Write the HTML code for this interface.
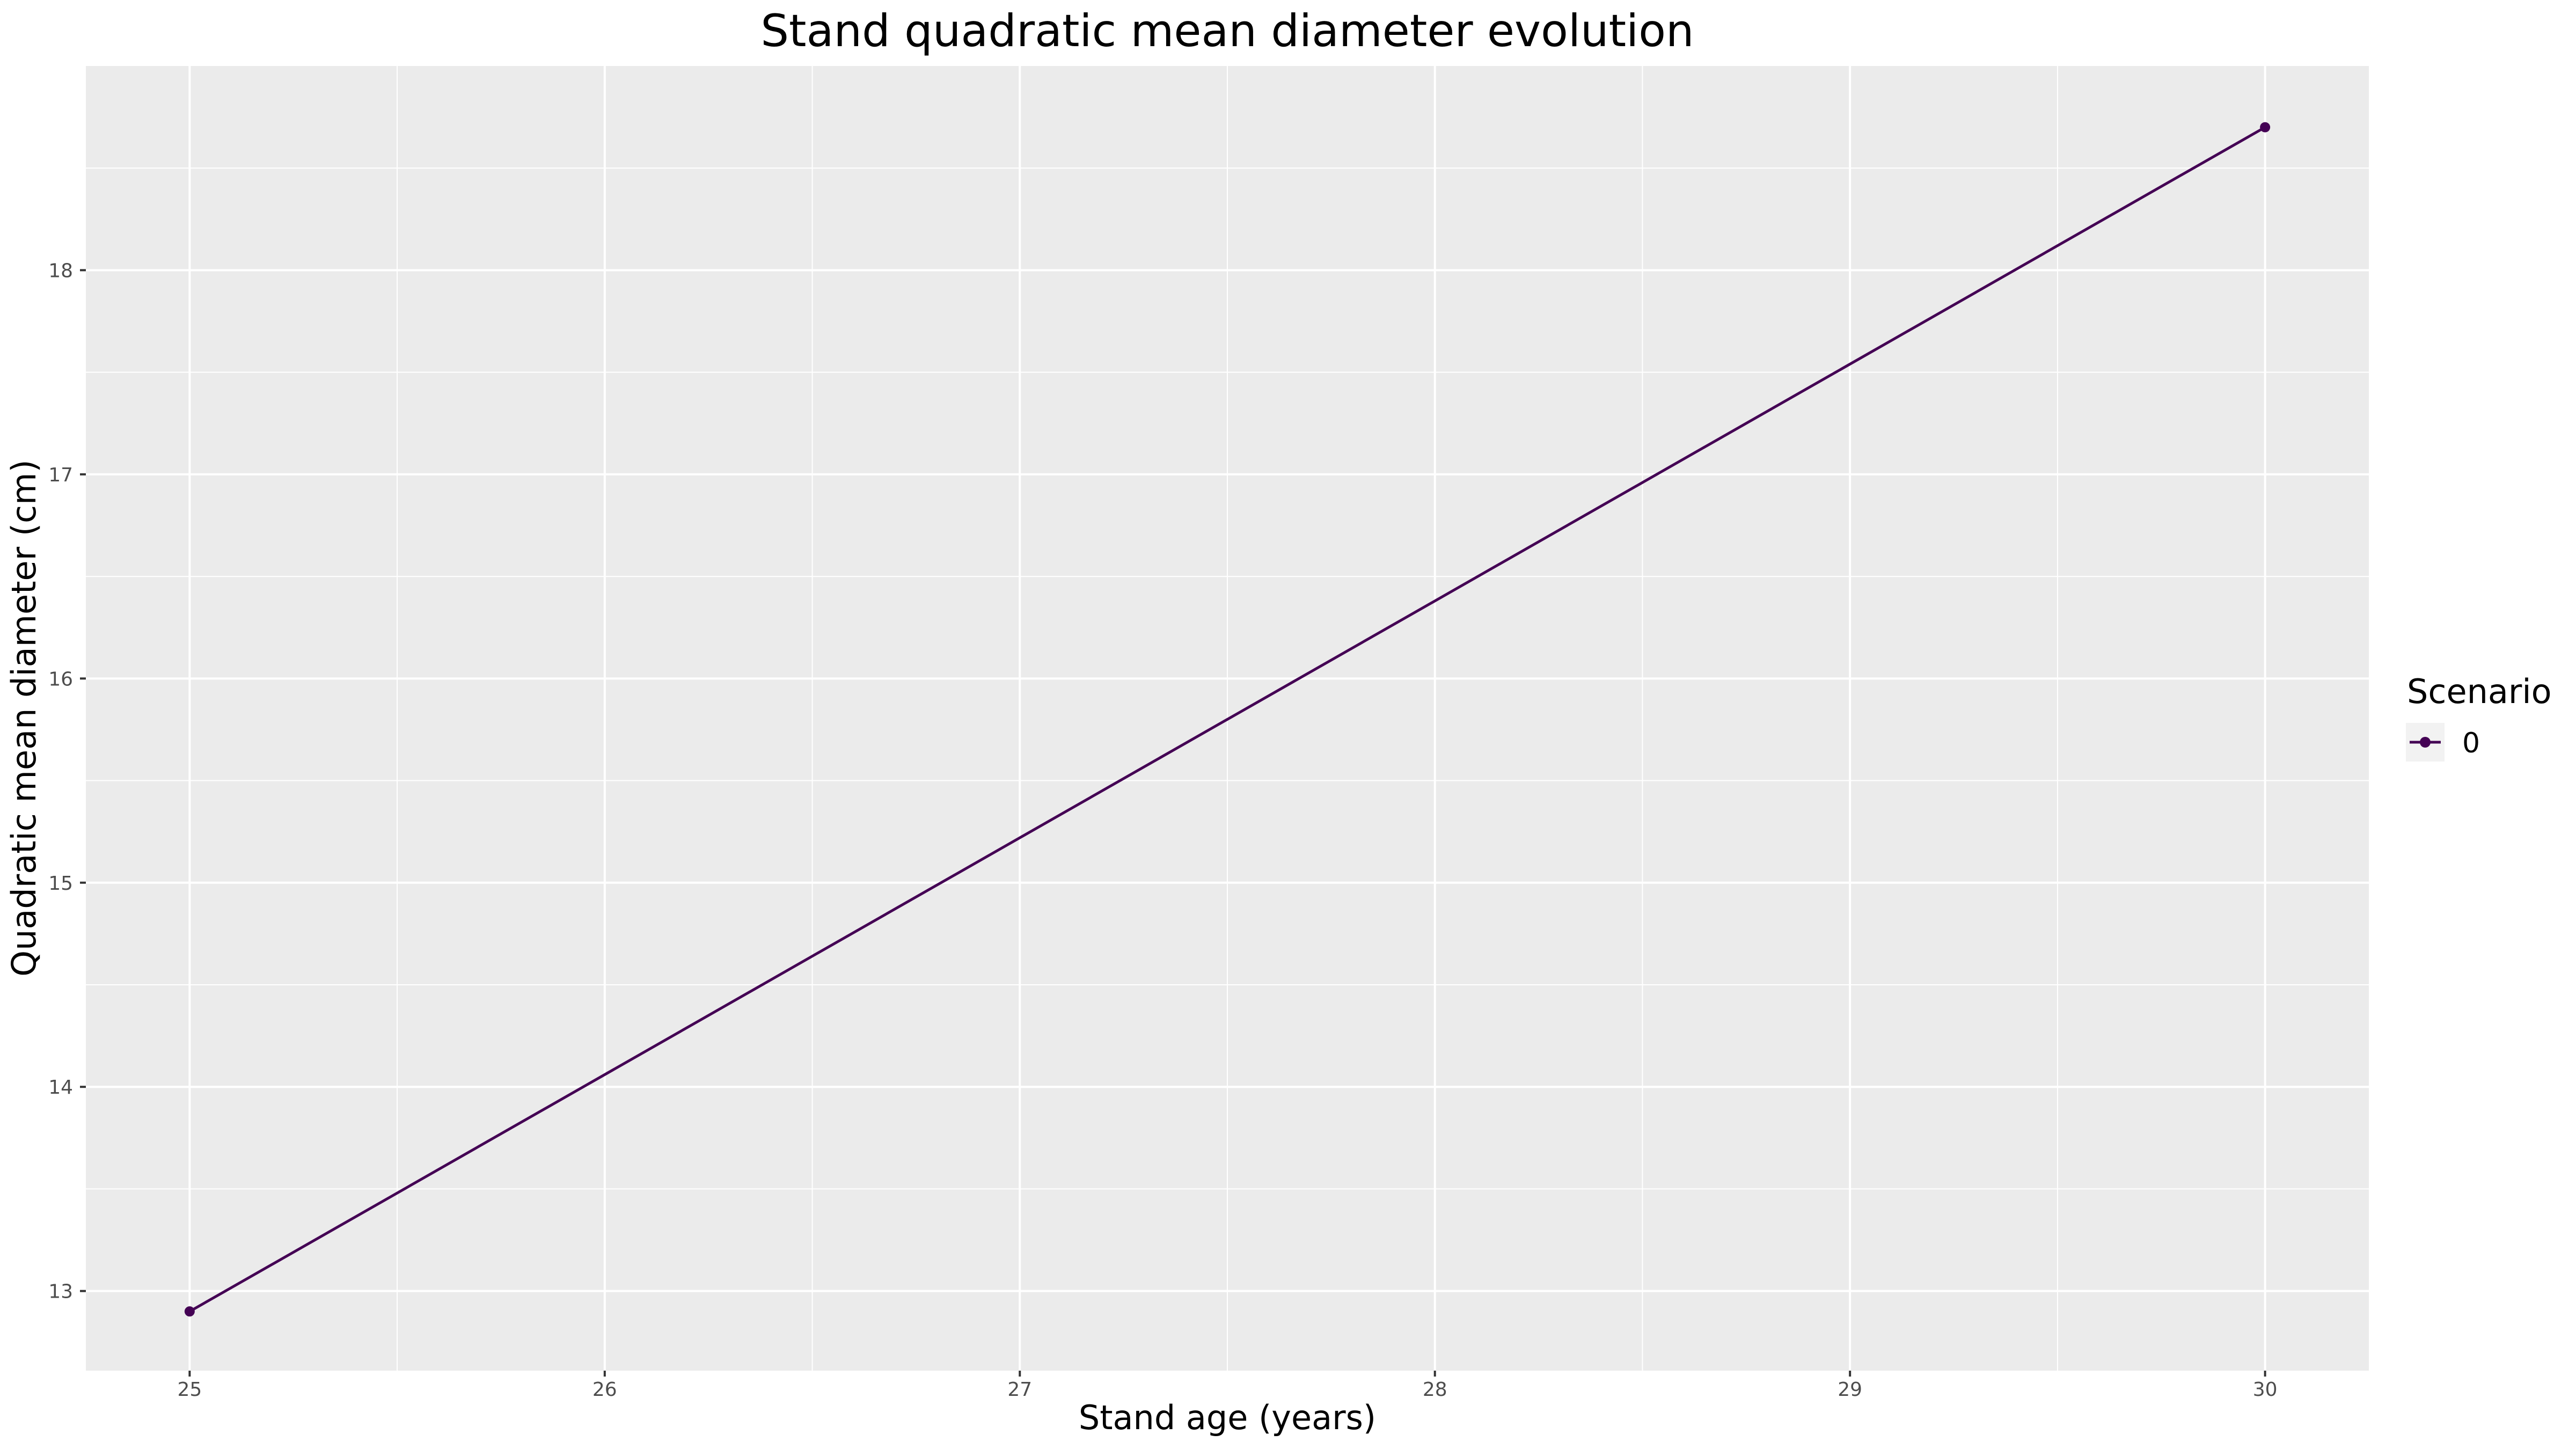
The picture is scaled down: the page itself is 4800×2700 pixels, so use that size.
<!DOCTYPE html>
<html><head><meta charset="utf-8"><style>
body{margin:0;background:#fff}
svg{display:block;font-family:"DejaVu Sans","Liberation Sans",sans-serif}
</style></head><body>
<svg id="chart" width="4800" height="2700" viewBox="0 0 4800 2700">
<text x="2287" y="86" font-size="83" text-anchor="middle" fill="#000">Stand quadratic mean diameter evolution</text>
<rect x="160" y="123" width="4254" height="2431" fill="#ebebeb"/>
<g id="grid"></g><g id="axes"></g><g id="series"></g>
<text x="2287" y="2663" font-size="62" text-anchor="middle" fill="#000">Stand age (years)</text>
<text transform="translate(66,1338) rotate(-90)" font-size="62" text-anchor="middle" fill="#000">Quadratic mean diameter (cm)</text>
<text x="4485" y="1310" font-size="62" fill="#000">Scenario</text>
<g>
<rect x="4483" y="1347" width="72" height="72" fill="#f2f2f2"/>
<line x1="4490" y1="1383" x2="4548" y2="1383" stroke="#440154" stroke-width="5"/>
<circle cx="4519" cy="1383" r="10" fill="#440154"/>
<text x="4588" y="1402" font-size="52" fill="#000">0</text>
</g>
</svg>
<script>
const ages=[25,30];
const diameters=[12.9,18.7];
const xTicks=[25,26,27,28,29,30];
const yTicks=[13,14,15,16,17,18];
const NS="http://www.w3.org/2000/svg";
const X0=160,X1=4414,Y0=2554,Y1=123;
const xMin=24.75,xMax=30.25,yMin=12.61,yMax=19.0;
function sx(v){return X0+(v-xMin)/(xMax-xMin)*(X1-X0);}
function sy(v){return Y0-(v-yMin)/(yMax-yMin)*(Y0-Y1);}
function mk(tag,attrs,parent){const e=document.createElementNS(NS,tag);for(const k in attrs)e.setAttribute(k,attrs[k]);parent.appendChild(e);return e;}
const grid=document.getElementById('grid'),axes=document.getElementById('axes'),series=document.getElementById('series');
for(let i=0;i<xTicks.length;i++){
  const v=xTicks[i];
  if(i<xTicks.length-1){const m=(v+xTicks[i+1])/2;
    const l=mk('line',{x1:sx(m),x2:sx(m),y1:Y1,y2:Y0,stroke:'#fff','stroke-width':2},grid);
    
    }
  const g=mk('line',{x1:sx(v),x2:sx(v),y1:Y1,y2:Y0,stroke:'#fff','stroke-width':4},grid);
  
  
  const t=mk('line',{x1:sx(v),x2:sx(v),y1:Y0,y2:Y0+11,stroke:'#333','stroke-width':4},axes);
  
  
  const tx=mk('text',{x:sx(v),y:2601,'font-size':36,'text-anchor':'middle',fill:'#4d4d4d'},axes);
  tx.textContent=v;
  
  
}
const yMinor=[12.5,13.5,14.5,15.5,16.5,17.5,18.5];
for(const m of yMinor){if(m<yMin)continue;
  const l=mk('line',{x1:X0,x2:X1,y1:sy(m),y2:sy(m),stroke:'#fff','stroke-width':2},grid);
  
  }
for(const v of yTicks){
  const g=mk('line',{x1:X0,x2:X1,y1:sy(v),y2:sy(v),stroke:'#fff','stroke-width':4},grid);
  
  
  const t=mk('line',{x1:X0-11,x2:X0,y1:sy(v),y2:sy(v),stroke:'#333','stroke-width':4},axes);
  
  
  const tx=mk('text',{x:136,y:sy(v)+13,'font-size':36,'text-anchor':'end',fill:'#4d4d4d'},axes);
  tx.textContent=v;
  
  
}
const pts=ages.map((a,i)=>sx(a)+','+sy(diameters[i])).join(' ');
const pl=mk('polyline',{points:pts,fill:'none',stroke:'#440154','stroke-width':5},series);


ages.forEach((a,i)=>{
  const c=mk('circle',{cx:sx(a),cy:sy(diameters[i]),r:9.5,fill:'#440154'},series);
  
  
});
</script>
</body></html>
